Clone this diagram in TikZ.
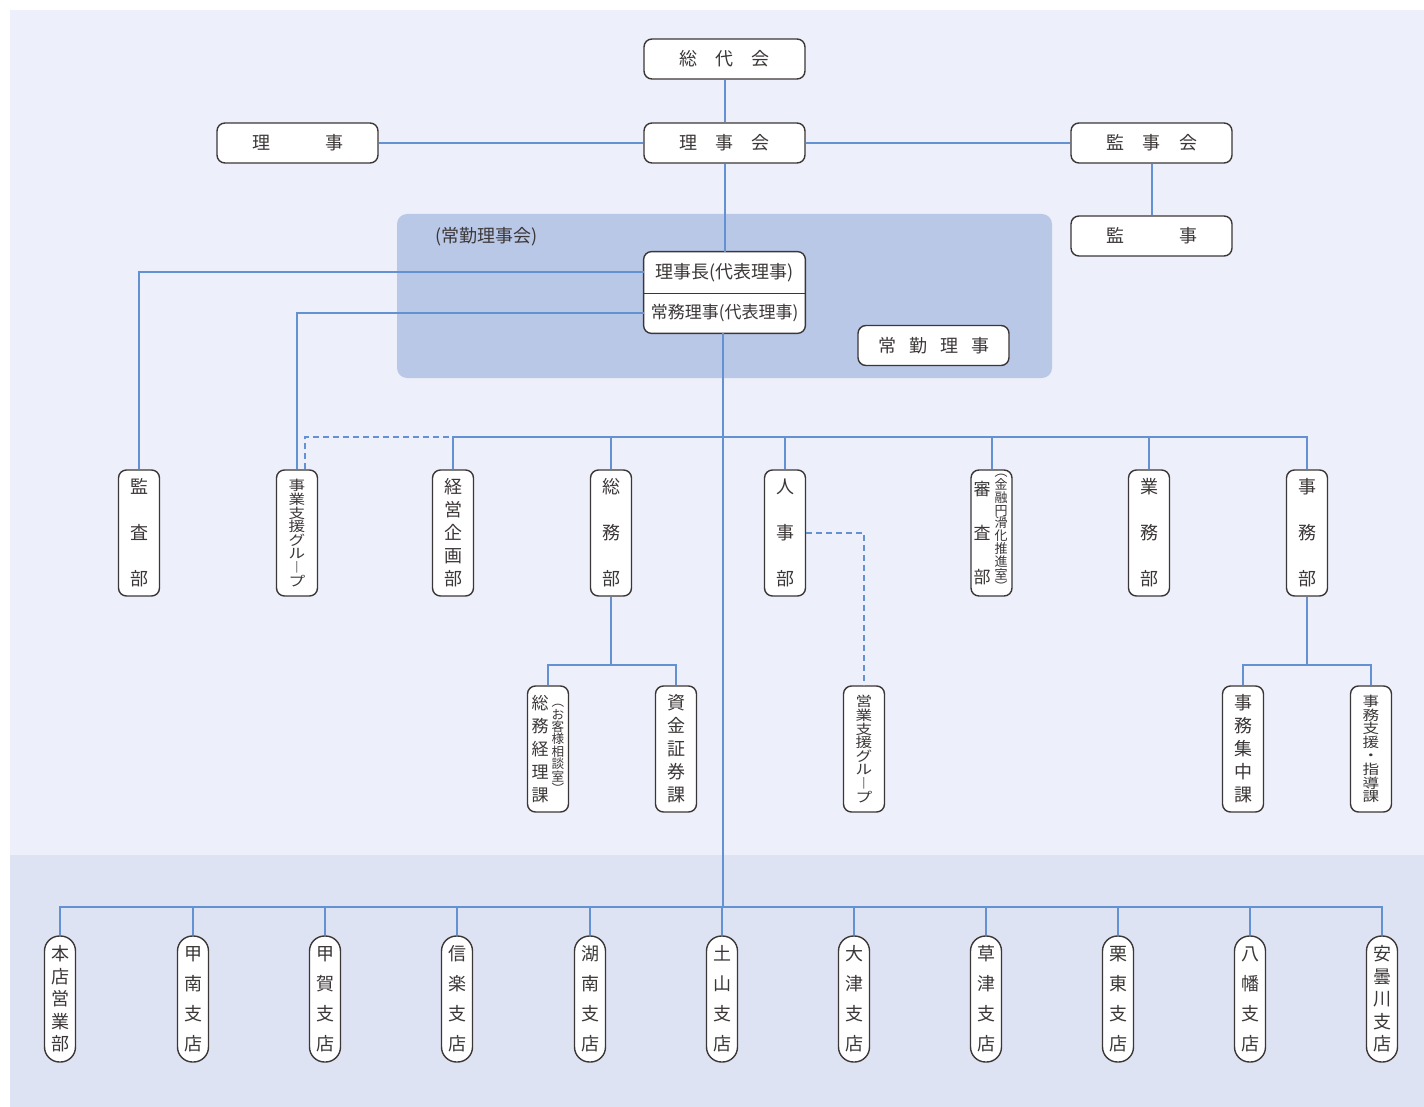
\documentclass[tikz,border=0pt]{standalone}
\usepackage{fontspec}
\newfontfamily\cjk{Noto Sans CJK JP}
\usetikzlibrary{backgrounds}

\definecolor{pagebg}{RGB}{237,240,250}
\definecolor{bandbg}{RGB}{222,227,243}
\definecolor{panelbg}{RGB}{186,200,232}
\definecolor{linkc}{RGB}{100,145,210}
\definecolor{boxc}{RGB}{60,55,55}
\definecolor{textc}{RGB}{60,55,55}

% squashed column of glyphs
\newcommand{\squashcol}[2]{\scalebox{1}[0.82]{\parbox{14pt}{\centering\fontsize{#1}{8.3}\selectfont #2}}}

\tikzset{
	hbox/.style={draw=boxc, fill=white, line width=0.7pt, rounded corners=4pt, minimum width=80.5pt, minimum height=20pt, inner sep=0pt, text=textc, font=\cjk\fontsize{9}{10}\selectfont},
	vbox/.style={draw=boxc, fill=white, line width=0.7pt, rounded corners=4pt, minimum width=20.5pt, minimum height=63pt, inner sep=0pt, align=center, text=textc, font=\cjk\fontsize{9}{#1}\selectfont},
	tightbox/.style={vbox=10},
	pill/.style={vbox=#1, minimum width=15.5pt, rounded corners=7.5pt},
	chiefpart/.style={minimum width=80.5pt, inner sep=0pt, text=textc},
	link/.style={draw=linkc, line width=1pt},
	dlink/.style={link, dash pattern=on 3pt off 2pt}
}

\begin{document}
\begin{tikzpicture}[x=0.5pt, y=-0.5pt]
		\useasboundingbox (0,0) rectangle (1424,1107);

		% Backgrounds
		\begin{scope}[on background layer]
			\fill[pagebg] (10,10) rectangle (1424,855);
			\fill[bandbg] (10,855) rectangle (1424,1107);
			\fill[panelbg, rounded corners=5pt] (397,214) rectangle (1052,378);
		\end{scope}

		% Define the top boxes
		\node[hbox] (soudai) at (724.5,59) {総\hspace{9.25pt}代\hspace{9.25pt}会};
		\node[hbox] (rijikai) at (724.5,143) {理\hspace{9.25pt}事\hspace{9.25pt}会};
		\node[hbox] (riji) at (297.5,143) {理\hspace{27.5pt}事};
		\node[hbox] (kanjikai) at (1151.5,143) {監\hspace{9.25pt}事\hspace{9.25pt}会};
		\node[hbox] (kanji) at (1151.5,236) {監\hspace{27.5pt}事};

		% Standing board
		\node[anchor=west, text=textc, font=\cjk\fontsize{9}{10}\selectfont] (panellabel) at (428,237) {(常勤理事会)};
		\node[chiefpart, minimum height=20.5pt, font=\cjk\fontsize{9}{10}\selectfont] (chair) at (724.5,272.5) {理事長(代表理事)};
		\node[chiefpart, minimum height=20pt, font=\cjk\fontsize{8.5}{10}\selectfont] (exec) at (724.5,313) {常務理事(代表理事)};
		\begin{scope}[on background layer]
			\draw[boxc, fill=white, line width=0.7pt, rounded corners=4pt] (chair.north west) rectangle (exec.south east);
		\end{scope}
		\draw[boxc, line width=0.7pt] (chair.south west) -- (chair.south east);
		\node[hbox, minimum width=75.5pt] (jokin) at (933.5,345.5) {常\hspace{6.5pt}勤\hspace{6.5pt}理\hspace{6.5pt}事};

		% Define the departments
		\node[vbox=23] (kansa) at (139,533) {監\\査\\部};
		\node[tightbox] (jigyo) at (297,533) {\squashcol{8.3}{事\\業\\支\\援\\グ\\ル\\︱\\プ}};
		\node[vbox=11.5] (keiei) at (453,533) {経\\営\\企\\画\\部};
		\node[vbox=23] (somu) at (611,533) {総\\務\\部};
		\node[vbox=23] (jinji) at (785,533) {人\\事\\部};
		\node[vbox=23] (shinsa) at (991.5,533) {\parbox[c]{9.5pt}{\centering\fontsize{8.5}{22}\selectfont 審\\査\\部}\parbox[c]{9.5pt}{\centering\fontsize{6.5}{6.4}\selectfont ︵\\金\\融\\円\\滑\\化\\推\\進\\室\\︶}};
		\node[vbox=23] (gyomu) at (1149,533) {業\\務\\部};
		\node[vbox=23] (jimu) at (1307,533) {事\\務\\部};

		% Define the sections
		\node[vbox=11.5] (kyaku) at (548,749) {\parbox[c]{10pt}{\centering\fontsize{8.5}{11.5}\selectfont 総\\務\\経\\理\\課}\parbox[c]{8pt}{\centering\fontsize{6.3}{6.2}\selectfont ︵\\お\\客\\様\\相\\談\\室\\︶}};
		\node[vbox=11.5] (shikin) at (676,749) {資\\金\\証\\券\\課};
		\node[tightbox] (eigyo) at (864,749) {\squashcol{8.3}{営\\業\\支\\援\\グ\\ル\\︱\\プ}};
		\node[vbox=11.5] (shuchu) at (1243,749) {事\\務\\集\\中\\課};
		\node[tightbox] (shien) at (1371,749) {\squashcol{8.3}{事\\務\\支\\援\\・\\指\\導\\課}};

		% Define the branches
		\node[pill=11.25] (honten) at (60,999) {本\\店\\営\\業\\部};
		\node[pill=15] (konan) at (193,999) {甲\\南\\支\\店};
		\node[pill=15] (koka) at (325,999) {甲\\賀\\支\\店};
		\node[pill=15] (shigaraki) at (457,999) {信\\楽\\支\\店};
		\node[pill=15] (kohnan) at (590,999) {湖\\南\\支\\店};
		\node[pill=15] (tsuchiyama) at (722,999) {土\\山\\支\\店};
		\node[pill=15] (otsu) at (854,999) {大\\津\\支\\店};
		\node[pill=15] (kusatsu) at (986,999) {草\\津\\支\\店};
		\node[pill=15] (ritto) at (1118,999) {栗\\東\\支\\店};
		\node[pill=15] (hachiman) at (1250,999) {八\\幡\\支\\店};
		\node[pill=11.25] (adogawa) at (1382,999) {安\\曇\\川\\支\\店};

		\coordinate (topbus) at (723,437);
		\coordinate (lowbus) at (723,907);

		% Define the edges
		\draw[link] (soudai) -- (rijikai);
		\draw[link] (riji) -- (rijikai);
		\draw[link] (rijikai) -- (kanjikai);
		\draw[link] (kanjikai) -- (kanji);
		\draw[link] (rijikai.south) -- (rijikai.south |- chair.north);
		\draw[link] (chair.west) -| (kansa.north);
		\draw[link] (exec.west) -| (jigyo.north);
		\draw[link] (exec.south -| lowbus) -- (lowbus);

		\draw[link] (keiei.north) -- (keiei.north |- topbus) -- (jimu.north |- topbus) -- (jimu.north);
		\foreach \d in {somu, jinji, shinsa, gyomu}
			\draw[link] (\d.north) -- (\d.north |- topbus);
		\draw[dlink] ([xshift=4pt]jigyo.north) |- (keiei.north |- topbus);

		\draw[link] (somu.south) -- ++(0,68) coordinate (somubus);
		\draw[link] (kyaku.north) |- (somubus) -| (shikin.north);
		\draw[dlink] (jinji.east) -| (eigyo.north);
		\draw[link] (jimu.south) -- ++(0,68) coordinate (jimubus);
		\draw[link] (shuchu.north) |- (jimubus) -| (shien.north);

		\draw[link] (honten.north) |- (adogawa.north |- lowbus) -- (adogawa.north);
		\foreach \b in {konan, koka, shigaraki, kohnan, tsuchiyama, otsu, kusatsu, ritto, hachiman}
			\draw[link] (\b.north) -- (\b.north |- lowbus);
	\end{tikzpicture}
\end{document}
